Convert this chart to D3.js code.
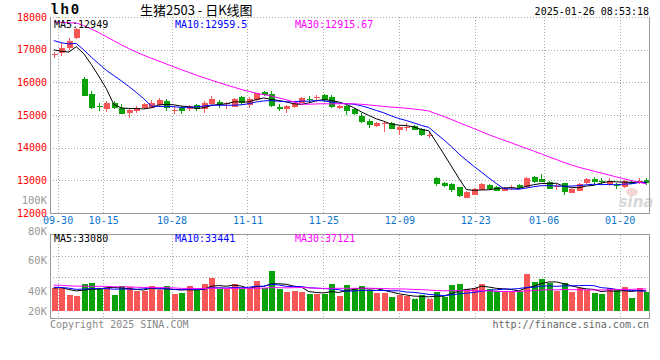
<!DOCTYPE html>
<html><head><meta charset="utf-8">
<script src="https://cdn.jsdelivr.net/npm/d3@7"></script>
<style>body{margin:0;background:#fff}svg{display:block}</style>
</head><body><svg id="c" width="660" height="360"></svg>
<script>
// ---------- data ----------
const dates = ["09-27","09-30","10-08","10-09","10-10","10-11","10-14","10-15","10-16","10-17","10-18",
"10-21","10-22","10-23","10-24","10-25","10-28","10-29","10-30","10-31","11-01",
"11-04","11-05","11-06","11-07","11-08","11-11","11-12","11-13","11-14","11-15",
"11-18","11-19","11-20","11-21","11-22","11-25","11-26","11-27","11-28","11-29",
"12-02","12-03","12-04","12-05","12-06","12-09","12-10","12-11","12-12","12-13",
"12-16","12-17","12-18","12-19","12-20","12-23","12-24","12-25","12-26","12-27",
"12-30","12-31","01-02","01-03","01-06","01-07","01-08","01-09","01-10",
"01-13","01-14","01-15","01-16","01-17","01-20","01-21","01-22","01-23","01-24"];
const openP = [16840,16910,17060,17330,16100,15640,15270,15205,15355,15205,
15050,15135,15205,15235,15305,15440,15140,15225,15175,15305,
15205,15345,15400,15340,15240,15540,15310,15460,15690,15640,
15255,15195,15235,15390,15500,15520,15600,15560,15215,15285,
15175,14980,14825,14685,14740,14765,14545,14610,14670,14560,
14360,13060,12930,12890,12790,12480,12560,12730,12860,12800,
12690,12780,12860,12790,13090,13040,12960,12820,12910,12620,
12690,12910,13030,12990,12910,12870,12810,12960,12970,13010];
const highP = [16940,17190,17345,17650,16150,15745,15380,15430,15430,15335,
15205,15275,15380,15460,15510,15480,15235,15275,15305,15340,
15440,15580,15460,15390,15520,15580,15560,15685,15735,15735,
15335,15295,15440,15560,15580,15610,15640,15600,15320,15300,
15205,15050,14870,14800,14800,14790,14650,14760,14700,14590,
14480,13100,12960,12910,12810,12660,12770,12930,12880,12830,
12800,12860,12880,13100,13130,13190,12980,12890,12930,12760,
12930,13060,13090,13060,13060,12930,13000,12990,13060,13060];
const lowP = [16735,16810,16990,17320,15580,15175,15130,15100,15175,15020,
14920,15070,15175,15205,15275,15130,15020,15020,15130,15130,
15060,15320,15205,15180,15230,15310,15205,15440,15580,15235,
15130,15070,15225,15360,15380,15410,15410,15215,15190,15000,
15000,14745,14590,14640,14490,14570,14390,14500,14540,14360,
14290,12830,12790,12650,12500,12460,12540,12700,12700,12660,
12670,12700,12740,12780,12910,12940,12740,12700,12550,12600,
12660,12900,12890,12860,12830,12720,12780,12880,12890,12850];
const closeP = [16870,17050,17265,17620,15585,15225,15245,15375,15205,15030,
15150,15225,15325,15375,15460,15240,15160,15135,15275,15175,
15375,15490,15300,15360,15490,15360,15490,15660,15610,15260,
15200,15285,15355,15530,15480,15540,15440,15240,15285,15125,
15030,14800,14695,14765,14755,14590,14640,14630,14560,14380,
14380,12890,12830,12710,12520,12650,12750,12900,12730,12690,
12770,12790,12760,13080,12930,12960,12760,12830,12620,12750,
12900,13030,12930,12970,12990,12850,12980,12910,12990,12910];
const volume = [38100,38100,32300,31500,41000,41800,38100,38100,32300,39400,
38400,35700,35700,39400,36200,39400,33100,34100,39400,36200,
41000,45700,36700,36700,41000,36700,36700,43300,38100,51200,
36700,34900,35700,34900,33100,33100,33100,41000,31500,40200,
37600,39400,36200,33600,33600,31000,32300,31500,29200,32300,
29200,34900,31000,40200,41000,36700,37600,41000,37000,35700,
34900,34900,35400,48800,42500,44900,41500,35700,41500,34900,
37600,36200,33600,33100,37600,36200,38400,30200,37600,34900];
// history before the window (estimated from where the MA lines start)
const priorCloses = [17500,17600,17800,18000,18300,18600,19050,18950,18800,18600,
18400,18300,18150,18000,17900,17850,17700,17750,17800,17650,
17700,17600,17500,17550,17450,17250,17400,16800,16650];
const priorVolumes = [42000,45000,39000,41000,44000,38000,40000,43000,41000,37000,
46000,40000,39000,42000,38000,41000,44000,40000,38000,41000,
40000,37000,41000,39000,38000,36000,40000,37000,38000];
const priceTicks = [18000,17000,16000,15000,14000,13000,12000];
const volTicks = [20000,40000,60000,80000,100000];
const volTickText = ["20K","40K","60K","80K","100K"];
const dateTicks = ["09-30","10-15","10-28","11-11","11-25","12-09","12-23","01-06","01-20"];
const maPeriods = [5,10,30];
const maColors = ["#000000","#0000ff","#ff00ff"];
const priceLegend = ["MA5:12949","MA10:12959.5","MA30:12915.67"];
const volLegend = ["MA5:33080","MA10:33441","MA30:37121"];
const symbol = "lh0";
const titleText = "生猪2503 - 日K线图";
const stamp = "2025-01-26 08:53:18";
const copyright = "Copyright 2025 SINA.COM";
const url = "http://finance.sina.com.cn";

// ---------- layout ----------
const L = 50, R = 650, pTop = 17, pBot = 213, vTop = 234.5, vBot = 318.5, vBase = 310.7;
const RED = "#f65656", GREEN = "#09a309", GRID = "#aaaaaa", BORDER = "#999999";
const MONO = "'DejaVu Sans Mono', monospace";
const svg = d3.select("#c");

const xBand = d3.scaleBand().domain(dates).range([L, R]).padding(0);
const xGrid = d3.scalePoint().domain(dates).range([L, R]);
const y = d3.scaleLinear().domain([12000, 18000]).range([pBot, pTop]);
const yv = d3.scaleLinear().domain([20000, 80000]).range([vBase, vTop]);
const yvLabel = d3.scaleLinear().domain(volTicks).range([vBase, 290.7, 260, 231, 200]);
const cx = d => xBand(d) + xBand.bandwidth() / 2;

function movingAvg(prior, vals, n) {
  const all = prior.concat(vals), off = prior.length;
  return vals.map((v, i) => d3.mean(all.slice(off + i - n + 1, off + i + 1)));
}

// ---------- grids ----------
const grid = svg.append("g").attr("stroke", GRID).attr("stroke-dasharray", "1,2").attr("shape-rendering", "crispEdges");
priceTicks.filter(t => t !== 12000).forEach(t => {
  grid.append("line").attr("x1", L).attr("x2", R).attr("y1", Math.round(y(t)) + 0.5).attr("y2", Math.round(y(t)) + 0.5);
});
[1, 2, 3].forEach(k => {
  const yy = Math.round(vTop + (vBot - vTop) * k / 4) + 0.5;
  grid.append("line").attr("x1", L).attr("x2", R).attr("y1", yy).attr("y2", yy);
});
dateTicks.forEach(d => {
  const xx = Math.round(xGrid(d)) + 0.5;
  grid.append("line").attr("x1", xx).attr("x2", xx).attr("y1", pTop).attr("y2", pBot);
  grid.append("line").attr("x1", xx).attr("x2", xx).attr("y1", vTop).attr("y2", vBot);
});

// watermark
svg.append("text").attr("x", 636).attr("y", 207).attr("text-anchor", "middle")
  .attr("font-family", "'DejaVu Sans', sans-serif").attr("font-style", "italic").attr("font-weight", "bold")
  .attr("font-size", 15).attr("fill", "#d8d8d8").text("sina");
svg.append("ellipse").attr("cx", 632).attr("cy", 192).attr("rx", 6).attr("ry", 4).attr("fill", "#f4c4c4").attr("opacity", 0.7);

// ---------- candles ----------
const idx = d3.range(dates.length);
const cg = svg.append("g").attr("shape-rendering", "crispEdges");
idx.forEach(i => {
  const up = closeP[i] >= openP[i];
  const col = up ? RED : GREEN;
  const xc = Math.round(cx(dates[i]));
  cg.append("line").attr("x1", xc + 0.5).attr("x2", xc + 0.5)
    .attr("y1", y(highP[i])).attr("y2", y(lowP[i])).attr("stroke", col);
  const top = y(Math.max(openP[i], closeP[i])), bot = y(Math.min(openP[i], closeP[i]));
  cg.append("rect").attr("x", xc - 2.5).attr("width", 6)
    .attr("y", Math.round(top)).attr("height", Math.max(1, Math.round(bot - top)))
    .attr("fill", col);
});

// ---------- price MA lines ----------
svg.append("clipPath").attr("id", "pclip").append("rect").attr("x", L).attr("y", pTop).attr("width", R - L).attr("height", pBot - pTop);
svg.append("clipPath").attr("id", "vclip").append("rect").attr("x", L).attr("y", vTop).attr("width", R - L).attr("height", vBot - vTop);
maPeriods.forEach((n, k) => {
  const ma = movingAvg(priorCloses, closeP, n);
  svg.append("path").attr("clip-path", "url(#pclip)")
    .attr("d", d3.line().x((v, i) => cx(dates[i])).y(v => y(v))(ma))
    .attr("fill", "none").attr("stroke", maColors[k]).attr("stroke-width", 1);
});

// ---------- volume ----------
const vg = svg.append("g").attr("shape-rendering", "crispEdges");
idx.forEach(i => {
  const up = closeP[i] >= openP[i];
  const xc = Math.round(cx(dates[i]));
  vg.append("rect").attr("x", xc - 2.5).attr("width", 6)
    .attr("y", Math.round(yv(volume[i]))).attr("height", Math.round(yv(20000)) - Math.round(yv(volume[i])))
    .attr("fill", up ? RED : GREEN);
});
maPeriods.forEach((n, k) => {
  const ma = movingAvg(priorVolumes, volume, n);
  svg.append("path").attr("clip-path", "url(#vclip)")
    .attr("d", d3.line().x((v, i) => cx(dates[i])).y(v => yv(v))(ma))
    .attr("fill", "none").attr("stroke", maColors[k]).attr("stroke-width", 1);
});

// ---------- borders ----------
const bd = svg.append("g").attr("stroke", BORDER).attr("fill", "none").attr("shape-rendering", "crispEdges");
bd.append("path").attr("d", `M${L + 0.5},${pTop}V${pBot + 0.5}H${R - 0.5}V${pTop}`);
bd.append("rect").attr("x", L + 0.5).attr("y", vTop).attr("width", R - L - 1).attr("height", vBot - vTop);

// ---------- axis labels ----------
const yAxis = d3.axisLeft(y).tickValues(priceTicks).tickSize(0).tickPadding(3).tickFormat(d3.format("d"));
const ya = svg.append("g").attr("transform", `translate(${L},0)`).call(yAxis);
ya.select(".domain").remove();
ya.selectAll("text").attr("fill", "#ff0000").attr("font-family", MONO).attr("font-size", 10);

const vAxis = d3.axisLeft(yvLabel).tickValues(volTicks).tickSize(0).tickPadding(3)
  .tickFormat((d, i) => volTickText[i]);
const va = svg.append("g").attr("transform", `translate(${L},0)`).call(vAxis);
va.select(".domain").remove();
va.selectAll("text").attr("fill", "#999999").attr("font-family", MONO).attr("font-size", 10.5);

const xAxis = d3.axisBottom(xGrid).tickValues(dateTicks).tickSize(0).tickPadding(0);
const xa = svg.append("g").attr("transform", `translate(0,${pBot + 4})`).call(xAxis);
xa.select(".domain").remove();
xa.selectAll("text").attr("fill", "#0a74cc").attr("font-family", MONO).attr("font-size", 10);

// ---------- legends & header ----------
const legX = [54, 175, 295];
priceLegend.forEach((t, k) => svg.append("text").attr("x", legX[k]).attr("y", 28)
  .attr("font-family", MONO).attr("font-size", 10).attr("fill", maColors[k]).text(t));
volLegend.forEach((t, k) => svg.append("text").attr("x", legX[k]).attr("y", 242)
  .attr("font-family", MONO).attr("font-size", 10).attr("fill", maColors[k]).text(t));

svg.append("text").attr("x", 50).attr("y", 14).attr("font-family", "'Liberation Mono', monospace").attr("font-weight", "bold")
  .attr("font-size", 14).attr("letter-spacing", 2).attr("fill", "#000").text(symbol);
svg.append("text").attr("x", 140).attr("y", 15).attr("font-family", "'Noto Sans CJK SC', sans-serif")
  .attr("font-size", 13).attr("fill", "#000").text(titleText);
svg.append("text").attr("x", 649).attr("y", 15).attr("text-anchor", "end").attr("font-family", MONO)
  .attr("font-size", 10).attr("fill", "#000").text(stamp);
svg.append("text").attr("x", 50).attr("y", 328).attr("font-family", MONO)
  .attr("font-size", 10).attr("fill", "#888").text(copyright);
svg.append("text").attr("x", 649).attr("y", 328).attr("text-anchor", "end").attr("font-family", MONO)
  .attr("font-size", 10).attr("fill", "#666").text(url);
</script></body></html>
